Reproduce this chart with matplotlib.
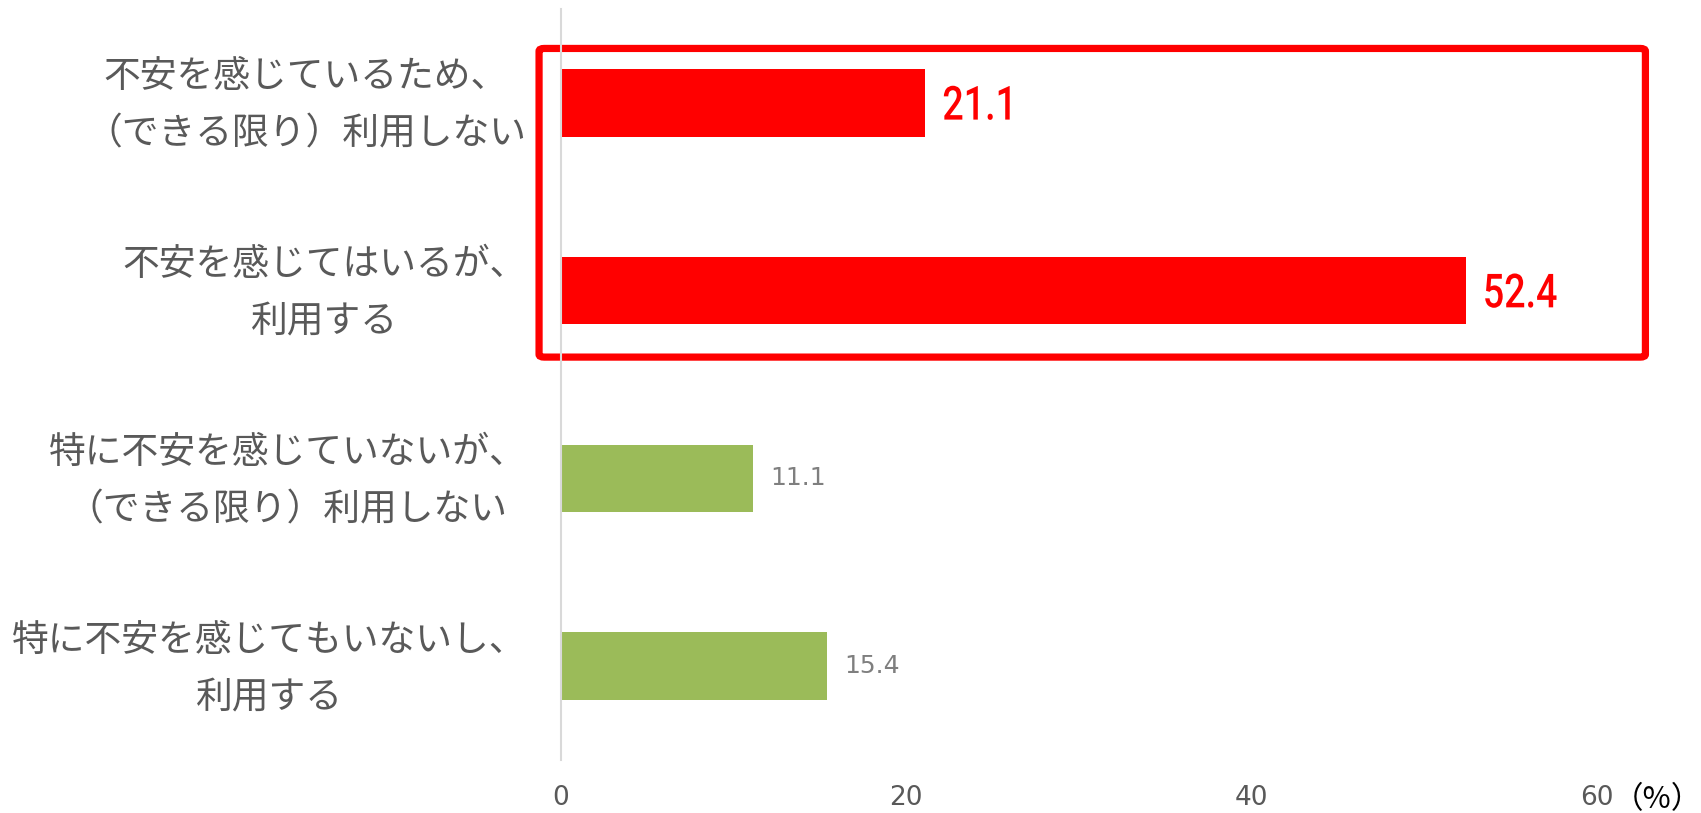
import numpy as np
import matplotlib
matplotlib.use("Agg")
import matplotlib.pyplot as plt
from matplotlib.patches import FancyBboxPatch, PathPatch
from matplotlib.textpath import TextPath
from matplotlib.font_manager import FontProperties
from matplotlib.transforms import Affine2D, ScaledTranslation

plt.rcParams['font.family'] = ['Noto Sans CJK JP', 'DejaVu Sans']

# data
labels = ['不安を感じているため、\n（できる限り）利用しない',
          '不安を感じてはいるが、\n利用する',
          '特に不安を感じていないが、\n（できる限り）利用しない',
          '特に不安を感じてもいないし、\n利用する']
values = [21.1, 52.4, 11.1, 15.4]
highlight = [True, True, False, False]
xticks = [0, 20, 40, 60]

red = '#FF0000'
green = '#9BBB59'
gray = '#595959'

fig = plt.figure(figsize=(17.01, 8.13), dpi=100)
ax = fig.add_axes([0.3298, 0.0652, 0.6091, 0.9237])

y = np.arange(len(labels))
colors = [red if h else green for h in highlight]
ax.barh(y, values, height=0.36, color=colors)

ax.set_xlim(0, 60)
ax.set_ylim(len(labels) - 0.5, -0.5)
ax.set_yticks(y)
ax.set_yticklabels(labels, fontsize=26.5, color=gray, multialignment='center',
                   linespacing=1.62)
ax.set_xticks(xticks)
ax.set_xticklabels([str(t) for t in xticks], fontsize=19, color=gray,
                   family=['DejaVu Sans'])
ax.tick_params(axis='y', length=0, pad=25)
ax.tick_params(axis='x', length=0, pad=18)

# nudge the category labels up a little
shift = ScaledTranslation(0, 8 / 72, fig.dpi_scale_trans)
for lab in ax.get_yticklabels():
    lab.set_transform(lab.get_transform() + shift)

for s in ['top', 'right', 'bottom']:
    ax.spines[s].set_visible(False)
ax.spines['left'].set_color('#D9D9D9')
ax.spines['left'].set_linewidth(1.5)

# value labels (red ones in a narrow, condensed look)
prop = FontProperties(family='Roboto', weight='medium')
fs_px = 47
for yi, v, h in zip(y, values, highlight):
    if h:
        tp = TextPath((0, 0), f'{v:.1f}', size=1, prop=prop)
        tr = (Affine2D().scale(0.8 * fs_px, fs_px).translate(17, -0.711 * fs_px / 2)
              + ScaledTranslation(v, yi, ax.transData))
        ax.add_patch(PathPatch(tp, transform=tr, color=red, lw=0, clip_on=False))
    else:
        ax.text(v + 1.0, yi, f'{v:.1f}', va='center', ha='left',
                color='#7F7F7F', fontsize=18, family=['DejaVu Sans'])

# highlight frame around the red bars
hi = [i for i, h in enumerate(highlight) if h]
y0 = min(hi) - 0.5 + 0.21
y1 = max(hi) + 0.5 - 0.146
box = FancyBboxPatch((-1.27, y0), 62.8 + 1.27, y1 - y0,
                     boxstyle='round,pad=0,rounding_size=0.3',
                     fill=False, edgecolor=red, linewidth=5.2,
                     clip_on=False, mutation_aspect=0.05)
ax.add_patch(box)

ax.text(1.058, -0.053, '（%）', transform=ax.transAxes, ha='center',
        va='center', fontsize=22, color='black')

fig.savefig('out.png', dpi=100)
